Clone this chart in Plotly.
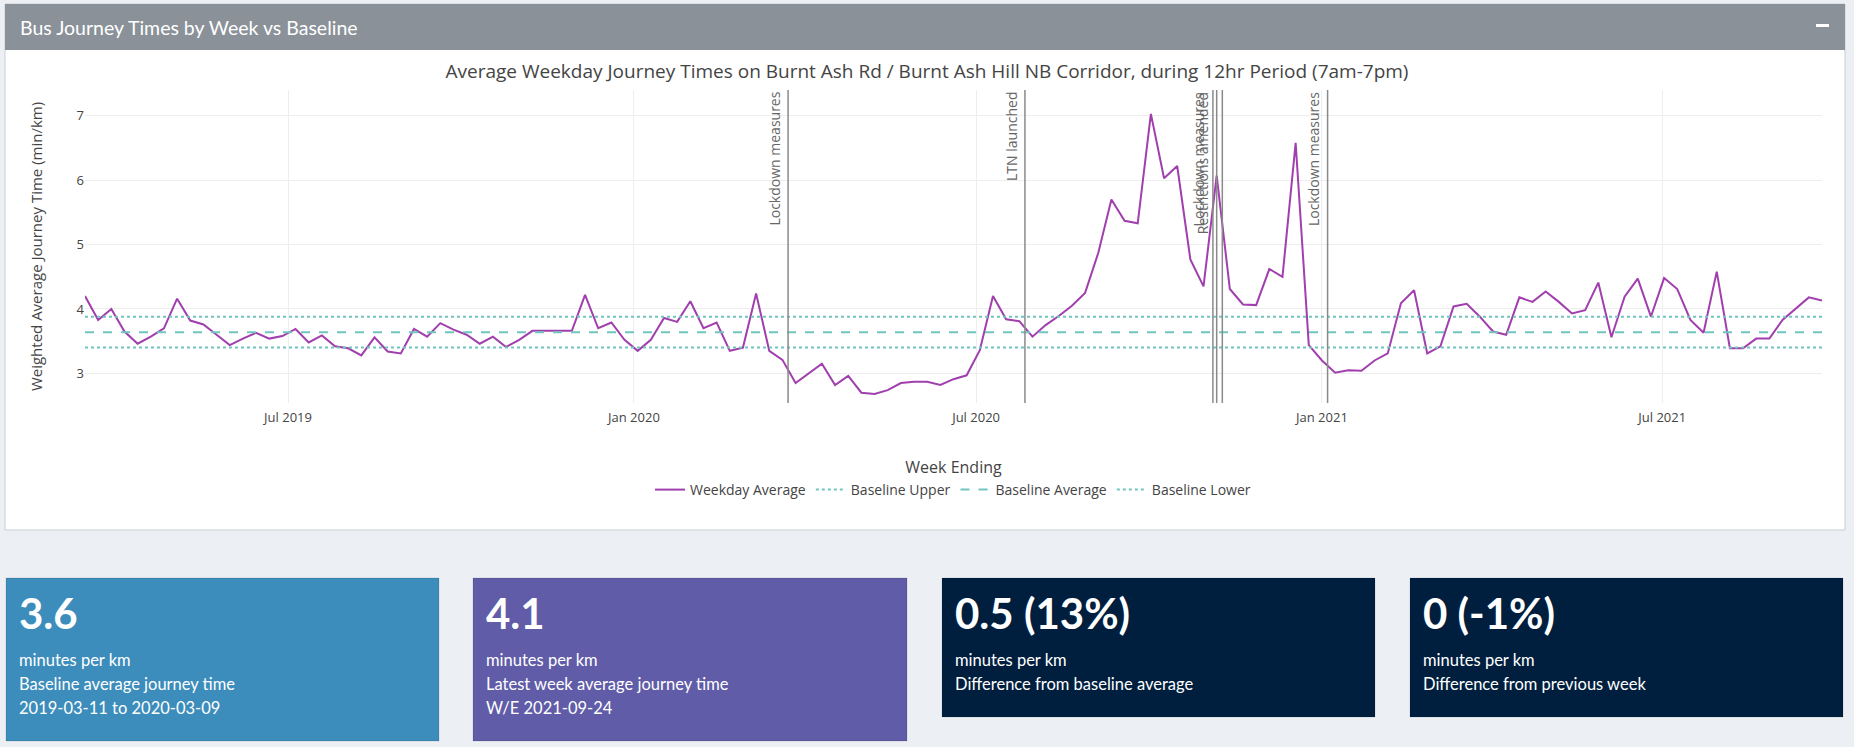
import pandas as pd
import plotly.graph_objects as go

# ---------------- data ----------------
week_start = "2019-03-15"
week_end = "2021-09-24"
week_ending = pd.date_range(week_start, week_end, freq="7D")

weekday_avg = [
    4.20, 3.83, 4.00, 3.65, 3.46, 3.57, 3.70, 4.16, 3.82, 3.76,
    3.60, 3.44, 3.54, 3.63, 3.54, 3.58, 3.69, 3.48, 3.59, 3.42,
    3.39, 3.28, 3.56, 3.34, 3.31, 3.69, 3.57, 3.78, 3.68, 3.60,
    3.46, 3.57, 3.41, 3.52, 3.66, 3.66, 3.65, 3.66, 4.22, 3.70,
    3.79, 3.52, 3.35, 3.52, 3.86, 3.80, 4.12,
    3.70, 3.79, 3.35, 3.40, 4.24, 3.35, 3.21, 2.85, 3.00, 3.15,
    2.82, 2.96, 2.70, 2.68, 2.74, 2.85, 2.87, 2.87, 2.82, 2.91,
    2.97, 3.36, 4.20, 3.84, 3.81, 3.57, 3.75, 3.89, 4.05, 4.25,
    4.87, 5.70, 5.37, 5.33, 7.03, 6.03, 6.22, 4.77, 4.35, 6.07,
    4.31, 4.07, 4.06, 4.62, 4.50, 6.58, 3.44, 3.20, 3.01, 3.05,
    3.04, 3.20, 3.31,
    4.09, 4.29, 3.31, 3.42, 4.04, 4.08, 3.88, 3.65, 3.60, 4.18,
    4.11, 4.27, 4.11, 3.93, 3.98, 4.41, 3.56, 4.19, 4.47, 3.88,
    4.48, 4.31, 3.83, 3.63, 4.58, 3.39, 3.39, 3.54, 3.54, 3.83,
    4.01, 4.18, 4.13,
]

baseline_upper = 3.88
baseline_average = 3.64
baseline_lower = 3.40

event_dates = ["2020-03-23", "2020-07-27", "2020-11-04", "2020-11-06", "2020-11-09", "2021-01-04"]
event_labels = ["Lockdown measures", "LTN launched", "Lockdown measures", "Restrictions amended", "", "Lockdown measures"]

box_values = ["3.6", "4.1", "0.5 (13%)", "0 (-1%)"]
box_units = ["minutes per km", "minutes per km", "minutes per km", "minutes per km"]
box_desc = ["Baseline average journey time", "Latest week average journey time",
            "Difference from baseline average", "Difference from previous week"]
box_extra = ["2019-03-11 to 2020-03-09", "W/E 2021-09-24", "", ""]
box_colors = ["#3c8dbc", "#605ca8", "#001f3f", "#001f3f"]

# ---------------- layout helpers ----------------
W, H = 1854, 747


def fx(x):
    return x / W


def fy(y):
    return 1 - y / H


PLOT_L, PLOT_R, PLOT_T, PLOT_B = 85, 1822, 90, 403
DASH_FONT = "Lato, 'Source Sans Pro', sans-serif"
CHART_FONT = "'Open Sans', verdana, arial, sans-serif"

fig = go.Figure()

fig.add_trace(go.Scatter(x=week_ending, y=weekday_avg, mode="lines", name="Weekday Average",
                         line=dict(color="#a03fad", width=2)))
span = [week_ending[0], week_ending[-1]]
fig.add_trace(go.Scatter(x=span, y=[baseline_upper] * 2, mode="lines", name="Baseline Upper",
                         line=dict(color="#70c6be", width=2, dash="dot")))
fig.add_trace(go.Scatter(x=span, y=[baseline_average] * 2, mode="lines", name="Baseline Average",
                         line=dict(color="#70c6be", width=2, dash="dash")))
fig.add_trace(go.Scatter(x=span, y=[baseline_lower] * 2, mode="lines", name="Baseline Lower",
                         line=dict(color="#70c6be", width=2, dash="dot")))

shapes = []
annotations = []

# dashboard chart box
shapes.append(dict(type="rect", xref="paper", yref="paper", layer="below",
                   x0=fx(5), x1=fx(1845), y0=fy(530), y1=fy(4),
                   fillcolor="white", line=dict(color="#c9ced4", width=1)))
shapes.append(dict(type="rect", xref="paper", yref="paper", layer="below",
                   x0=fx(5), x1=fx(1845), y0=fy(50), y1=fy(4),
                   fillcolor="#8a9199", line=dict(width=0)))
shapes.append(dict(type="rect", xref="paper", yref="paper", layer="above",
                   x0=fx(1816), x1=fx(1829), y0=fy(27), y1=fy(24),
                   fillcolor="white", line=dict(width=0)))
annotations.append(dict(text="Bus Journey Times by Week vs Baseline", xref="paper", yref="paper",
                        x=fx(18), y=fy(27), xanchor="left", yanchor="middle", showarrow=False,
                        font=dict(family=DASH_FONT, size=19.5, color="white")))

# event lines
for d, lab in zip(event_dates, event_labels):
    shapes.append(dict(type="line", xref="x", yref="y domain", x0=d, x1=d, y0=0, y1=1,
                       line=dict(color="#8a8a8a", width=1.5), layer="above"))
    if lab:
        annotations.append(dict(text=lab, xref="x", yref="y domain", x=d, y=1,
                                xanchor="right", yanchor="top", textangle=-90, showarrow=False,
                                xshift=-2, font=dict(family=CHART_FONT, size=14, color="#666")))

# value boxes
box_x0 = [6, 473, 942, 1410]
box_x1 = [439, 907, 1375, 1843]
box_y1 = [741, 741, 717, 717]
for i in range(4):
    shapes.append(dict(type="rect", xref="paper", yref="paper", layer="below",
                       x0=fx(box_x0[i]), x1=fx(box_x1[i]), y0=fy(box_y1[i]), y1=fy(578),
                       fillcolor=box_colors[i], line=dict(color="rgba(0,0,0,0.12)", width=1)))
    tx = fx(box_x0[i] + 11)
    annotations.append(dict(text="<b>" + box_values[i] + "</b>", xref="paper", yref="paper",
                            x=tx, y=fy(613), xanchor="left", yanchor="middle", showarrow=False,
                            font=dict(family=DASH_FONT, size=42, color="white")))
    for txt, yy in [(box_units[i], 660), (box_desc[i], 684), (box_extra[i], 708)]:
        if txt:
            annotations.append(dict(text=txt, xref="paper", yref="paper", x=tx, y=fy(yy),
                                    xanchor="left", yanchor="middle", showarrow=False,
                                    font=dict(family=DASH_FONT, size=16.5, color="white")))

fig.update_layout(
    width=W, height=H, margin=dict(l=0, r=0, t=0, b=0, pad=0),
    paper_bgcolor="#ecf0f5", plot_bgcolor="rgba(0,0,0,0)",
    font=dict(family=CHART_FONT, color="#444", size=13),
    title=dict(text="Average Weekday Journey Times on Burnt Ash Rd / Burnt Ash Hill NB Corridor, during 12hr Period (7am-7pm)",
               x=0.5, xref="paper", y=fy(71), yref="paper", xanchor="center", yanchor="middle",
               font=dict(size=19, color="#444")),
    xaxis=dict(domain=[fx(PLOT_L), fx(PLOT_R)], range=[week_ending[0], week_ending[-1]],
               showgrid=True, gridcolor="#eeeeee", zeroline=False, showline=False,
               tickformat="%b %Y", dtick="M6", tick0="2019-07-01", ticklabelstandoff=5,
               tickfont=dict(size=13),
               title=dict(text="Week Ending", standoff=36, font=dict(size=16))),
    yaxis=dict(domain=[fy(PLOT_B), fy(PLOT_T)], range=[2.54, 7.40], dtick=1,
               showgrid=True, gridcolor="#eeeeee", zeroline=False, showline=False,
               tickfont=dict(size=13),
               title=dict(text="Weighted Average Journey Time (min/km)", standoff=30, font=dict(size=15))),
    legend=dict(orientation="h", x=fx(953), xanchor="center", y=fy(490), yanchor="middle",
                bgcolor="rgba(0,0,0,0)", font=dict(size=14, color="#444")),
    shapes=shapes, annotations=annotations, showlegend=True,
)

fig.write_html("out.html", config={"displayModeBar": False},
               post_script="document.body.style.margin='0';document.body.style.overflow='hidden';")
